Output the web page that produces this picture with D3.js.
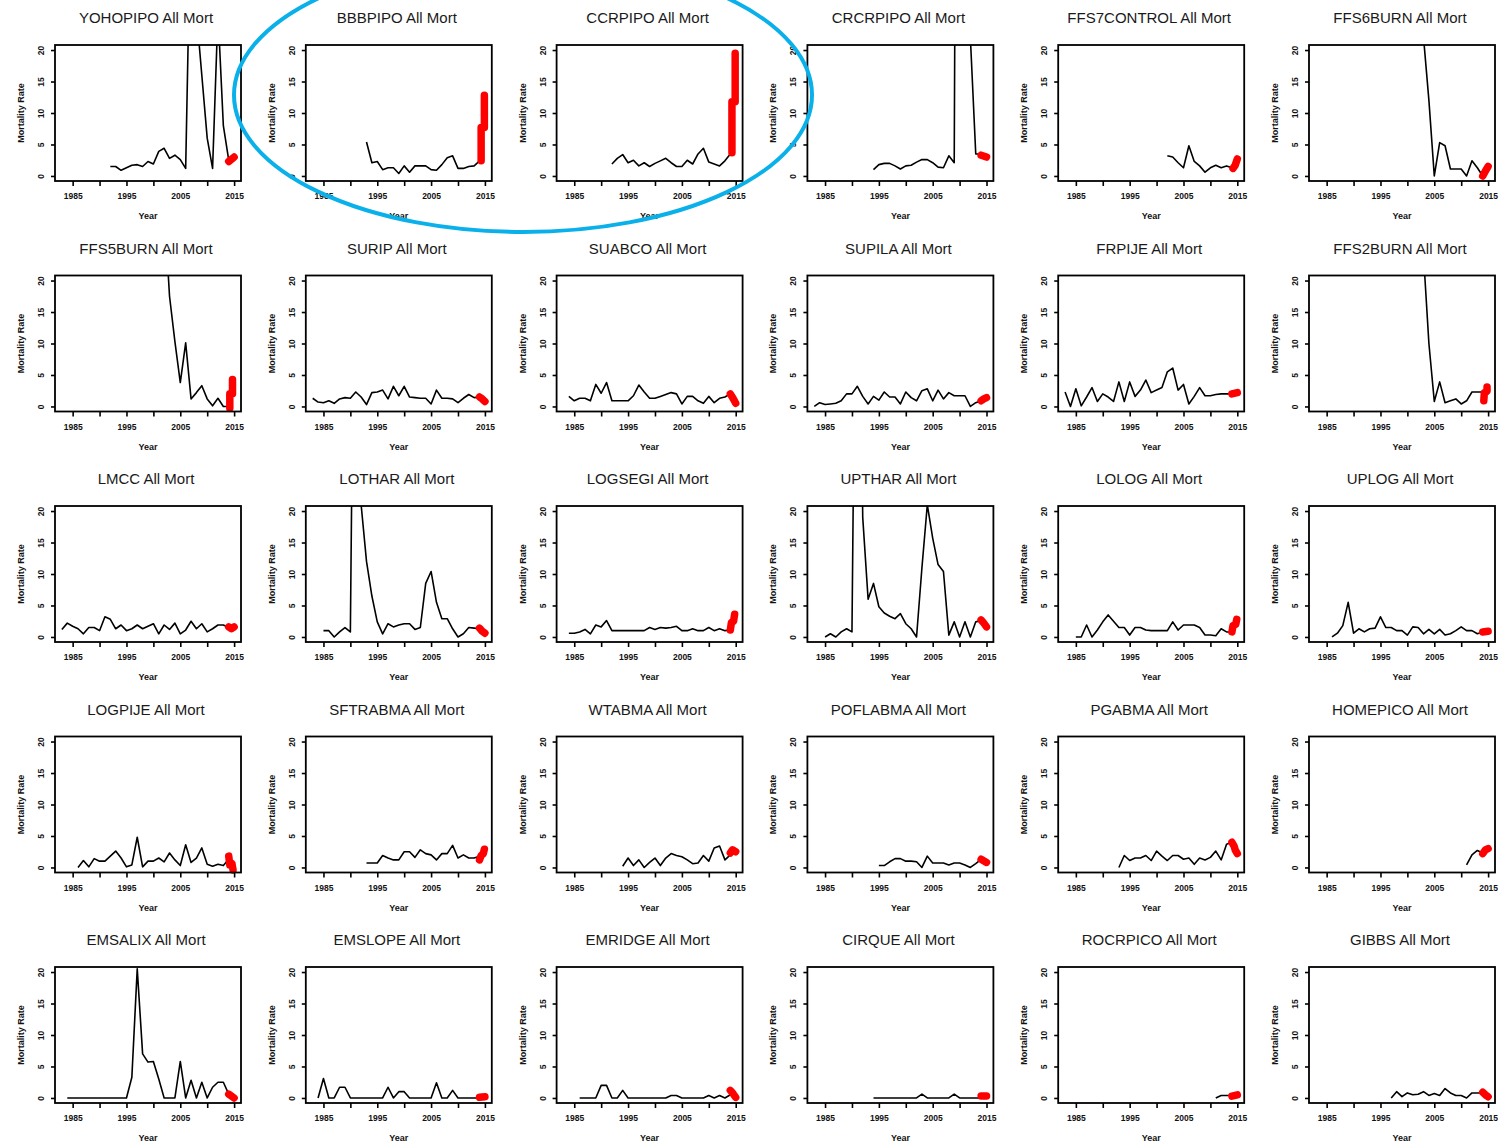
<!DOCTYPE html>
<html><head><meta charset="utf-8">
<script src="https://cdn.jsdelivr.net/npm/d3@7"></script>
<style>body{margin:0;background:#fff}svg{display:block}</style>
</head><body><svg id="c" width="1499" height="1144"></svg>
<script>
// ---------- data ----------
const titles = ["YOHOPIPO","BBBPIPO","CCRPIPO","CRCRPIPO","FFS7CONTROL","FFS6BURN",
  "FFS5BURN","SURIP","SUABCO","SUPILA","FRPIJE","FFS2BURN",
  "LMCC","LOTHAR","LOGSEGI","UPTHAR","LOLOG","UPLOG",
  "LOGPIJE","SFTRABMA","WTABMA","POFLABMA","PGABMA","HOMEPICO",
  "EMSALIX","EMSLOPE","EMRIDGE","CIRQUE","ROCRPICO","GIBBS"];
const firstYear = [1992,1993,1992,1994,2002,2003,
  2002,1983,1984,1983,1983,2003,
  1983,1985,1984,1985,1985,1986,
  1986,1993,1994,1995,1993,2011,
  1984,1984,1986,1994,2011,1997];
const mortality = [
  [1.5,1.5,0.9,1.3,1.7,1.8,1.5,2.3,1.9,3.9,4.4,2.8,3.3,2.6,1.2,45,26,16,6,1.2,26,8,2.5],
  [5.4,2.1,2.3,1.0,1.3,1.3,0.4,1.6,0.6,1.6,1.6,1.6,1.0,0.9,1.8,2.9,3.2,1.2,1.2,1.5,1.6,2.4],
  [1.9,2.8,3.4,2.1,2.5,1.6,2.1,1.5,2.0,2.4,2.8,2.1,1.5,1.5,2.5,1.9,3.5,4.4,2.2,1.9,1.6,2.4,3.5],
  [1.0,1.8,2.0,2.0,1.6,1.1,1.6,1.7,2.2,2.6,2.6,2.1,1.4,1.3,3.2,2.1,200,80,22,3.5,3.5],
  [3.2,3.0,2.1,1.3,4.8,2.3,1.6,0.6,1.3,1.7,1.3,1.6,1.3],
  [22,12,0,5.3,4.8,1.1,1.1,1.1,0,2.4,1.3,0],
  [32,17.5,10.3,3.8,10.1,1.2,2.2,3.3,1.2,0.1,1.3,0,0],
  [1.3,0.7,0.6,0.9,0.5,1.2,1.4,1.3,2.3,1.5,0.3,2.2,2.3,2.6,1.2,3.2,1.7,3.2,1.5,1.4,1.3,1.3,0.4,2.6,1.3,1.3,1.2,0.6,1.3,1.9,1.4,1.5],
  [1.6,0.9,1.3,1.3,0.9,3.5,2.1,3.8,0.9,0.9,0.9,0.9,1.7,3.4,2.3,1.3,1.3,1.6,1.9,2.2,2.0,0.4,1.6,1.6,0.9,0.5,1.6,0.6,1.3,1.5,2.0],
  [0,0.6,0.3,0.4,0.5,0.9,2.0,2.0,3.2,1.6,0.4,1.6,1.0,2.3,1.5,1.5,0.4,2.3,1.4,0.9,2.5,2.8,0.9,2.6,1.2,2.2,1.7,1.7,1.7,0.0,0.6,0.9],
  [2.3,0,2.8,0.1,1.5,3.0,0.8,2.0,1.5,0.8,3.9,0.8,3.9,1.6,2.6,4.2,2.2,2.6,3.0,5.5,6.1,2.6,3.5,0.4,1.6,3.0,1.7,1.7,1.9,2.0,2.0,2.0],
  [24,10,0.8,3.9,0.6,0.9,1.2,0.4,0.9,2.3,2.3,2.3],
  [1.2,2.2,1.7,1.3,0.5,1.5,1.5,1.0,3.2,2.8,1.3,1.9,1.0,1.3,1.9,1.3,1.7,2.1,0.5,1.9,1.2,2.2,0.5,1.1,2.5,1.3,2.1,0.8,1.3,1.9,1.9,1.5],
  [1.0,1.0,0.0,0.8,1.5,0.8,90,21,12,6.5,2.4,0.5,2.1,1.6,1.9,2.1,2.1,1.2,1.5,8.5,10.4,5.5,2.9,2.9,1.3,0.0,0.5,1.5,1.4,1.3],
  [0.6,0.6,0.8,1.2,0.5,1.9,1.6,2.6,1.0,1.0,1.0,1.0,1.0,1.0,1.0,1.5,1.2,1.5,1.4,1.5,1.7,1.0,1.0,1.3,1.0,1.0,1.5,1.0,1.3,1.0,1.1],
  [0,0.5,0,0.8,1.3,0.8,90,19,6.0,8.5,4.8,3.8,3.3,2.9,3.7,2.1,1.3,0,11,21,15.7,11.5,10.4,0.3,2.4,0,2.4,0,2.4,2.6],
  [0,0,1.9,0,1.1,2.4,3.5,2.5,1.5,1.5,0.3,1.5,1.5,1.1,1.0,1.0,1.0,1.0,2.4,1.1,1.9,1.9,1.9,1.5,0.3,0.3,0.2,1.3,0.8,0.8],
  [0,0.6,1.8,5.5,0.6,1.3,0.8,1.3,1.4,3.2,1.5,1.5,1.0,1.0,0.3,1.6,1.5,0.5,1.2,0.5,1.2,0.3,0.5,1.0,1.6,1.0,1.0,0.5,0.8],
  [0,1.1,0.1,1.4,1.0,1.0,1.8,2.6,1.5,0.1,0.4,4.8,0.1,1.0,1.0,1.5,0.9,2.3,1.2,0.3,3.6,0.8,1.5,3.1,0.5,0.2,0.5,0.3,1.3],
  [0.7,0.7,0.7,1.9,1.5,1.2,1.2,2.5,2.5,1.6,2.8,2.2,2.0,1.2,2.2,2.2,3.5,1.5,2.0,1.5,1.5,1.8],
  [0.2,1.5,0.3,1.2,0.0,0.8,1.5,0.3,1.5,2.2,1.9,1.7,1.2,0.6,0.7,1.9,1.0,3.1,3.4,1.2,2.0],
  [0.3,0.3,0.9,1.4,1.4,1.0,1.0,0.9,0.0,1.8,0.7,0.7,0.7,0.4,0.7,0.7,0.4,0,0.6,1.3],
  [0,1.9,1.1,1.5,1.5,1.9,1.1,2.6,1.8,1.1,1.9,1.9,1.3,1.5,0.5,1.5,1.2,1.6,2.6,1.2,3.7,4.0],
  [0.4,2.0,2.7,2.3],
  [0,0,0,0,0,0,0,0,0,0,0,0,3.3,20.5,7,5.7,5.8,3,0,0,0,5.8,0,2.8,0,2.5,0,1.7,2.5,2.5,0.6],
  [0,3.1,0,0,1.7,1.7,0,0,0,0,0,0,0,1.7,0,1.0,1.0,0,0,0,0,0,2.4,0,0,1.2,0,0,0,0,0],
  [0,0,0,0,2.0,2.0,0,0,1.2,0,0,0,0,0,0,0,0,0.4,0.4,0,0,0,0,0,0.4,0,0.4,0,0.5],
  [0,0,0,0,0,0,0,0,0,0.6,0,0,0,0,0,0.6,0,0,0,0,0],
  [0,0.4,0.4,0.4],
  [0,1.0,0.2,0.8,0.5,0.6,1.0,0.4,0.7,0.4,1.5,0.8,0.4,0.4,0,0.8,0.8,0.8]
];
const recentYears = [
  [2014,2015],[2014.3,2014.3,2014.9,2014.9],[2014.3,2014.3,2014.9,2014.9],[2014,2015],[2014.2,2014.6,2015],[2014,2014.5,2015],
  [2014.2,2014.2,2014.7,2014.7],[2014,2014.5,2015],[2014,2014.5,2015],[2014,2014.5,2015],[2014,2015],[2014.2,2014.3,2014.8,2014.8],
  [2014,2014.5,2015],[2014,2014.5,2015],[2014,2014.2,2014.6,2014.8],[2014,2014.5,2015],[2014,2014.2,2014.7,2014.9],[2014,2015],
  [2014,2014.2,2014.6,2014.8],[2014,2014.3,2014.7,2014.9],[2014,2014.4,2015],[2014,2015],[2014,2014.4,2014.6,2015],[2014,2014.5,2015],
  [2014,2015],[2014,2015],[2014,2014.5,2015],[2014,2015],[2014,2015],[2014,2014.5,2015]
];
const recentValues = [
  [2.3,3.0],[2.4,7.7,7.7,12.8],[3.7,11.8,11.8,19.5],[3.3,3.0],[1.2,1.7,2.7],[0,0.8,1.5],
  [-0.3,2.0,2.0,4.3],[1.5,1.2,0.8],[2.0,1.3,0.5],[0.9,1.2,1.4],[2.0,2.2],[0.9,2.2,2.4,3.1],
  [1.6,1.3,1.6],[1.4,0.9,0.6],[1.1,2.3,2.5,3.6],[2.7,2.2,1.6],[0.8,1.8,2.0,2.8],[0.8,0.9],
  [1.8,0.4,0.6,-0.4],[1.2,1.9,2.2,2.9],[2.3,2.8,2.5],[1.3,0.8],[4.0,3.4,2.8,2.2],[2.2,2.8,3.0],
  [0.6,0.0],[0.1,0.2],[1.2,0.7,0.1],[0.3,0.3],[0.3,0.5],[0.9,0.5,0.2]
];
const xTicks = [1985,1990,1995,2000,2005,2010,2015];
const xTickLabels = ["1985","","1995","","2005","","2015"];
const yTicks = [0,5,10,15,20];
const yTickLabels = ["0","5","10","15","20"];

// ---------- layout ----------
const svg = d3.select("#c");
const nCols = 6, boxW = 186, boxH = 136;
const colLeft = c => 55 + c * 250.8;
const rowTop = r => 45 + r * 230.5;
const x = d3.scaleLinear().domain([1981.72, 2016.28]).range([0, boxW]);
const y = d3.scaleLinear().domain([-0.8, 20.8]).range([boxH, 0]);
const font = "'Liberation Sans', Arial, Helvetica, sans-serif";
const line = d3.line().x(d => x(d[0])).y(d => y(d[1]));

titles.forEach((name, i) => {
  const r = Math.floor(i / nCols), c = i % nCols;
  const g = svg.append("g").attr("transform", `translate(${colLeft(c)},${rowTop(r)})`);

  g.append("defs").append("clipPath").attr("id", "clip" + i)
    .append("rect").attr("x", 0).attr("y", 0).attr("width", boxW).attr("height", boxH);

  const pts = mortality[i].map((v, k) => [firstYear[i] + k, v]);
  g.append("path").attr("d", line(pts)).attr("clip-path", `url(#clip${i})`)
    .attr("fill", "none").attr("stroke", "#000").attr("stroke-width", 1.6)
    .attr("stroke-linejoin", "round");

  const red = recentYears[i].map((yr, k) => [yr, recentValues[i][k]]);
  g.append("path").attr("d", line(red))
    .attr("fill", "none").attr("stroke", "#ff0000").attr("stroke-width", 7.5)
    .attr("stroke-linejoin", "round").attr("stroke-linecap", "round");

  g.append("rect").attr("x", 0).attr("y", 0).attr("width", boxW).attr("height", boxH)
    .attr("fill", "none").attr("stroke", "#000").attr("stroke-width", 1.8);

  // x axis
  const xa = g.append("g").attr("transform", `translate(0,${boxH})`)
    .call(d3.axisBottom(x).tickValues(xTicks).tickSize(5).tickSizeOuter(0)
      .tickFormat((d, k) => xTickLabels[k]));
  xa.select(".domain").remove();
  xa.selectAll(".tick line").attr("stroke", "#000").attr("stroke-width", 1.6);
  xa.selectAll(".tick text").attr("y", 12).attr("dy", "0.71em")
    .attr("font-family", font).attr("font-size", 8.5).attr("font-weight", "bold").attr("fill", "#111");

  // y axis
  const ya = g.append("g")
    .call(d3.axisLeft(y).tickValues(yTicks).tickSize(4).tickSizeOuter(0)
      .tickFormat((d, k) => yTickLabels[k]));
  ya.select(".domain").remove();
  ya.selectAll(".tick line").attr("stroke", "#000").attr("stroke-width", 1.6);
  ya.selectAll(".tick text").attr("transform", "rotate(-90)").attr("x", 0).attr("y", -11)
    .attr("dy", 0).attr("text-anchor", "middle")
    .attr("font-family", font).attr("font-size", 8.5).attr("font-weight", "bold").attr("fill", "#111");

  g.append("text").attr("transform", `translate(-31,${boxH / 2}) rotate(-90)`)
    .attr("text-anchor", "middle").attr("font-family", font).attr("font-size", 9)
    .attr("font-weight", "bold").attr("fill", "#111").text("Mortality Rate");

  g.append("text").attr("x", boxW / 2).attr("y", boxH + 38)
    .attr("text-anchor", "middle").attr("font-family", font).attr("font-size", 9)
    .attr("font-weight", "bold").attr("fill", "#111").text("Year");

  g.append("text").attr("x", boxW / 2 - 2).attr("y", -22)
    .attr("text-anchor", "middle").attr("font-family", font).attr("font-size", 15)
    .attr("fill", "#1a1a1a").text(name + " All Mort");
});

// highlight ellipse
svg.append("ellipse").attr("cx", 523).attr("cy", 95).attr("rx", 289).attr("ry", 137)
  .attr("fill", "none").attr("stroke", "#0ab0ea").attr("stroke-width", 4);
</script>
</body></html>
